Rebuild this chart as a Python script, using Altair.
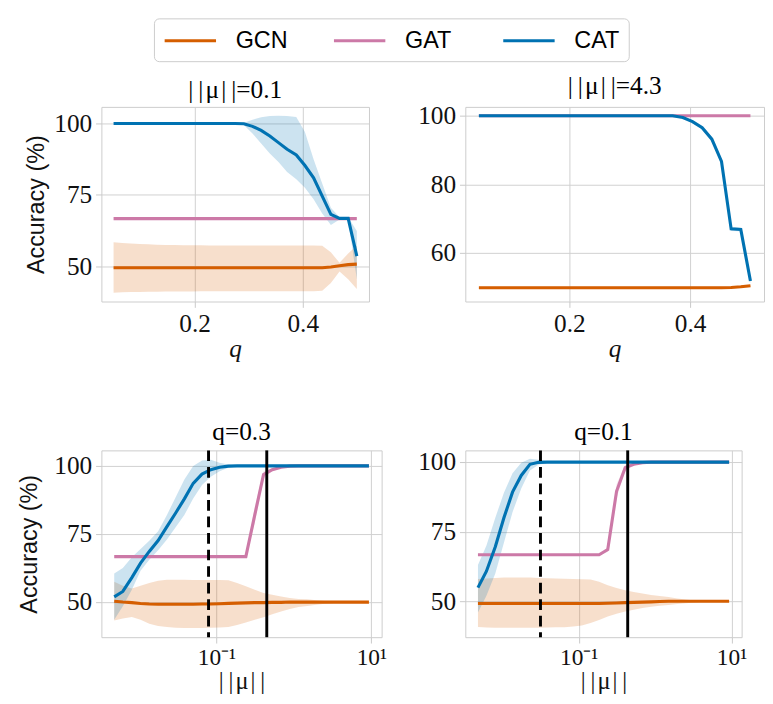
import altair as alt
import pandas as pd

models = ["GCN", "GAT", "CAT"]
colors = ["#d55e00", "#cc79a7", "#0072b2"]
bands = [m + " band" for m in models]

q_vals = [0.05, 0.066, 0.082, 0.098, 0.114, 0.13, 0.146, 0.163, 0.179, 0.195,
          0.211, 0.227, 0.243, 0.259, 0.275, 0.291, 0.307, 0.323, 0.339, 0.355,
          0.371, 0.388, 0.404, 0.42, 0.436, 0.452, 0.468, 0.484, 0.5]
mu_vals = [0.0048, 0.0062, 0.0081, 0.0105, 0.0136, 0.0177, 0.023, 0.0298, 0.0386, 0.0502,
           0.0652, 0.0847, 0.11, 0.143, 0.185, 0.24, 0.313, 0.406, 0.526, 0.684,
           0.887, 1.15, 1.5, 1.95, 2.52, 3.27, 4.26, 5.52, 7.18, 9.31]

# ---- panel 1: ||mu|| = 0.1, x = q
p1_cat_mean = [100] * 15 + [99.9, 99.0, 97.6, 95.6, 93.3, 91.0, 89.0, 85.3, 81.0, 74.6, 68.2, 66.8, 66.8, 53.6]
p1_cat_hi = [100] * 15 + [100.3, 101.3, 102.2, 102.6, 102.7, 102.6, 102.3, 97.0, 87.5, 79.0, 70.5, 67.2, 67.2, 62.4]
p1_cat_lo = [100] * 15 + [99.5, 96.5, 93.0, 89.5, 86.5, 83.0, 80.5, 77.5, 73.5, 68.5, 64.5, 66.4, 66.4, 45.5]
p1_gat_mean = [66.7] * 29
p1_gat_hi = [66.7] * 29
p1_gat_lo = [66.7] * 29
p1_gcn_mean = [49.5] * 25 + [49.8, 50.2, 50.6, 50.8]
p1_gcn_hi = [58.4, 58.2, 58.0, 57.8, 57.7, 57.6, 57.5, 57.5, 57.4, 57.4, 57.4,
             57.3, 57.3, 57.3, 57.3, 57.3, 57.3, 57.3, 57.3, 57.3, 57.3, 57.3, 57.3,
             57.3, 57.2, 54.9, 51.3, 54.5, 57.3]
p1_gcn_lo = [40.8, 40.9, 41.0, 41.0, 41.1, 41.1, 41.2, 41.2, 41.2, 41.2, 41.3,
             41.3, 41.3, 41.3, 41.3, 41.3, 41.3, 41.3, 41.3, 41.3, 41.3, 41.3, 41.3,
             41.3, 41.5, 44.2, 48.2, 45.5, 42.1]

# ---- panel 2: ||mu|| = 4.3, x = q
p2_cat_mean = [100] * 21 + [99.5, 98.3, 96.5, 93.2, 86.7, 67.0, 66.8, 51.8]
p2_cat_hi = [100] * 21 + [99.7, 98.7, 97.0, 93.8, 87.5, 67.6, 67.3, 52.6]
p2_cat_lo = [100] * 21 + [99.3, 97.9, 96.0, 92.6, 85.9, 66.4, 66.3, 51.0]
p2_gat_mean = [100] * 29
p2_gat_hi = [100] * 29
p2_gat_lo = [100] * 29
p2_gcn_mean = [49.8] * 26 + [49.9, 50.1, 50.4]
p2_gcn_hi = [50.1] * 26 + [50.2, 50.4, 50.7]
p2_gcn_lo = [49.5] * 26 + [49.6, 49.8, 50.1]

# ---- panel 3: q = 0.3, x = ||mu||
p3_cat_mean = [51.9, 53.9, 59.0, 64.3, 68.6, 72.6, 77.7, 82.7, 87.9, 93.6, 97.0, 98.6, 99.5, 99.9] + [100] * 16
p3_cat_hi = [60.5, 62.5, 66.5, 69.5, 72.5, 76.0, 82.0, 88.5, 95.0, 100.0, 102.0, 102.3, 101.2, 100.5, 100.1] + [100] * 15
p3_cat_lo = [43.5, 48.5, 54.5, 61.5, 65.5, 69.0, 73.0, 77.5, 82.0, 88.0, 93.0, 96.0, 98.0, 99.3, 99.8] + [100] * 15
p3_gat_mean = [66.7] * 16 + [82.0, 96.8, 98.6, 99.5, 99.9] + [100] * 9
p3_gat_hi = [66.7] * 16 + [85.0, 98.0, 99.2, 99.8, 100] + [100] * 9
p3_gat_lo = [66.7] * 16 + [79.0, 95.5, 98.0, 99.2, 99.8] + [100] * 9
p3_gcn_mean = [50.3, 50.0, 49.8, 49.5, 49.3, 49.2, 49.2, 49.2, 49.2, 49.2, 49.3, 49.3, 49.4, 49.5, 49.6,
               49.7, 49.8, 49.8, 49.9, 49.9] + [50] * 10
p3_gcn_hi = [57.5, 56, 55, 56, 57, 57.8, 58.2, 58.2, 58.2, 58.1, 58.1, 58.1, 58.1,
             58, 57, 55.8, 54.5, 53.3, 52.7, 52, 51.5, 51.1, 51.0, 50.7, 50.4, 50.2, 50.05, 50, 50, 50]
p3_gcn_lo = [43.2, 44, 44.5, 43.5, 42, 41.2, 40.8, 40.6, 40.5, 40.5, 40.5, 40.6, 40.7,
             40.8, 41.6, 42.5, 43.5, 44.4, 45.5, 46.5, 47.5, 48.2, 48.6, 49.0, 49.4, 49.7, 49.9, 50, 50, 50]

# ---- panel 4: q = 0.1, x = ||mu||
p4_cat_mean = [54.9, 60.8, 69.6, 80.0, 89.2, 95.2, 99.2, 99.9] + [100] * 22
p4_cat_hi = [63, 70, 80, 89, 96, 99.8, 101.2, 100.8, 100.3, 100.1] + [100] * 20
p4_cat_lo = [46, 52, 60, 71, 82, 90.5, 97, 99, 99.7, 99.9] + [100] * 20
p4_gat_mean = [66.7] * 15 + [68.6, 89.5, 98.0, 99.2, 99.8] + [100] * 10
p4_gat_hi = [66.7] * 15 + [69.5, 92.0, 99.0, 99.6, 100] + [100] * 10
p4_gat_lo = [66.7] * 15 + [67.8, 87.0, 97.0, 98.8, 99.6] + [100] * 10
p4_gcn_mean = [49.2] * 15 + [49.3, 49.4, 49.5, 49.6, 49.7, 49.8, 49.9] + [50] * 8
p4_gcn_hi = [58, 58.2, 58.4, 58.5, 58.5, 58.5, 58.5, 58.4, 58.3, 58.2, 58.1, 58, 57.9, 57.8, 57,
             55.8, 54.8, 54.0, 53.3, 52.8, 52.3, 51.9, 51.5, 51.0, 50.6, 50.3, 50.15, 50.05, 50, 50]
p4_gcn_lo = [40.8, 40.6, 40.5, 40.5, 40.5, 40.5, 40.5, 40.5, 40.6, 40.7, 40.7, 40.9, 41.3, 42.2, 43.3,
             44.5, 45.5, 46.3, 47.0, 47.6, 48.0, 48.4, 48.7, 49.0, 49.3, 49.6, 49.8, 49.9, 50, 50]

# vertical reference lines (dashed, solid) for the bottom panels
p3_vlines = [0.0792, 0.447]
p4_vlines = [0.0316, 0.438]

titles = ["|\u2009|\u200aμ\u200a|\u2009|=0.1", "|\u2009|\u200aμ\u200a|\u2009|=4.3", "q=0.3", "q=0.1"]
mu_title = "|\u2009|\u200aμ\u200a|\u2009|"

SERIF = "Liberation Serif"
SANS = "Liberation Sans"

color_scale = alt.Scale(domain=models, range=colors)
fill_scale = alt.Scale(domain=bands, range=colors)
legend = alt.Legend(
    orient="none", legendX=54, legendY=-91, direction="horizontal", title=None,
    symbolType="M-1,0H3.4", symbolSize=576, symbolStrokeWidth=3.2, symbolOpacity=1,
    labelFont=SANS, labelFontSize=24, labelColor="#000", labelOffset=47,
    gridAlign="all", columnPadding=40, padding=9, strokeColor="#cccccc", fillColor="white",
    cornerRadius=5, labelLimit=200,
)


def series_df(xs, mean, lo, hi, model):
    return pd.DataFrame({"x": xs, "mean": mean, "lo": lo, "hi": hi,
                         "model": model, "band": model + " band"})


def panel(xs, data, xscale, xaxis, yscale, yaxis, title, w, h, vlines=None):
    xenc = alt.X("x:Q", scale=xscale, axis=xaxis)
    layers = []
    for m in models:
        mean, lo, hi = data[m]
        d = series_df(xs, mean, lo, hi, m)
        layers.append(alt.Chart(d).mark_area(opacity=0.2).encode(
            x=xenc,
            y=alt.Y("lo:Q", scale=yscale, axis=yaxis),
            y2="hi:Q",
            fill=alt.Fill("band:N", scale=fill_scale, legend=None),
        ))
    for m in models:
        mean, lo, hi = data[m]
        d = series_df(xs, mean, lo, hi, m)
        layers.append(alt.Chart(d).mark_line(strokeWidth=3.2).encode(
            x=xenc,
            y=alt.Y("mean:Q", scale=yscale, axis=yaxis),
            color=alt.Color("model:N", scale=color_scale, legend=legend),
        ))
    if vlines:
        layers.append(alt.Chart(pd.DataFrame({"x": [vlines[0]]})).mark_rule(
            color="black", strokeWidth=3, strokeDash=[11, 6]).encode(x=xenc))
        layers.append(alt.Chart(pd.DataFrame({"x": [vlines[1]]})).mark_rule(
            color="black", strokeWidth=3).encode(x=xenc))
    return alt.layer(*layers).properties(
        width=w, height=h,
        title=alt.Title(title, font=SERIF, fontSize=26, fontWeight="normal", offset=4, color="#000"),
    )


qscale = alt.Scale(domain=[0.0275, 0.5225], nice=False, zero=False)
qaxis = alt.Axis(values=[0.2, 0.4], format=".1f", title="q", titleFontStyle="italic")
muscale = alt.Scale(type="log", domain=[0.00328, 13.58], nice=False)
muaxis = alt.Axis(values=[0.1, 10], labelExpr="datum.value < 1 ? '10⁻¹' : '10¹'", title=mu_title,
                  labelFontSize=24, labelPadding=3, titleFontSize=25, titlePadding=0)


def yaxis(vals, title=None, tpad=5):
    if title:
        return alt.Axis(values=vals, title=title, titleFont=SANS, titleFontSize=24,
                        titleFontWeight="normal", titlePadding=tpad)
    return alt.Axis(values=vals, title=None)


p1 = panel(q_vals, {"GCN": (p1_gcn_mean, p1_gcn_lo, p1_gcn_hi),
                    "GAT": (p1_gat_mean, p1_gat_lo, p1_gat_hi),
                    "CAT": (p1_cat_mean, p1_cat_lo, p1_cat_hi)},
           qscale, qaxis, alt.Scale(domain=[37.7, 105.8], nice=False, zero=False),
           yaxis([50, 75, 100], "Accuracy (%)", 5), titles[0], 275, 200)
p2 = panel(q_vals, {"GCN": (p2_gcn_mean, p2_gcn_lo, p2_gcn_hi),
                    "GAT": (p2_gat_mean, p2_gat_lo, p2_gat_hi),
                    "CAT": (p2_cat_mean, p2_cat_lo, p2_cat_hi)},
           qscale, qaxis, alt.Scale(domain=[45.8, 102.6], nice=False, zero=False),
           yaxis([60, 80, 100]), titles[1], 307, 200)
p3 = panel(mu_vals, {"GCN": (p3_gcn_mean, p3_gcn_lo, p3_gcn_hi),
                     "GAT": (p3_gat_mean, p3_gat_lo, p3_gat_hi),
                     "CAT": (p3_cat_mean, p3_cat_lo, p3_cat_hi)},
           muscale, muaxis, alt.Scale(domain=[37.1, 105.7], nice=False, zero=False),
           yaxis([50, 75, 100], "Accuracy (%)", 13), titles[2], 288, 192, p3_vlines)
p4 = panel(mu_vals, {"GCN": (p4_gcn_mean, p4_gcn_lo, p4_gcn_hi),
                     "GAT": (p4_gat_mean, p4_gat_lo, p4_gat_hi),
                     "CAT": (p4_cat_mean, p4_cat_lo, p4_cat_hi)},
           muscale, muaxis, alt.Scale(domain=[37.1, 104.2], nice=False, zero=False),
           yaxis([50, 75, 100]), titles[3], 284, 192, p4_vlines)

chart = alt.ConcatChart(
    concat=[p1, p2, p3, p4], columns=2, align="none",
    spacing=alt.RowColnumber(row=58, column=30),
).properties(
    padding={"left": 9, "top": 0, "right": 0, "bottom": 0}
).configure_view(
    stroke="#cccccc", strokeWidth=1
).configure_axis(
    domain=False, labelFont=SERIF, labelFontSize=26, labelColor="#111",
    titleFont=SERIF, titleFontSize=26, titleFontWeight="normal", titleColor="#111",
    gridColor="#d0d0d0", gridWidth=1, tickColor="#c8c8c8", tickSize=6, labelPadding=4,
    titlePadding=0,
).configure_axisY(titlePadding=5)

chart.save("out.html", embed_options={"renderer": "svg", "actions": False})
